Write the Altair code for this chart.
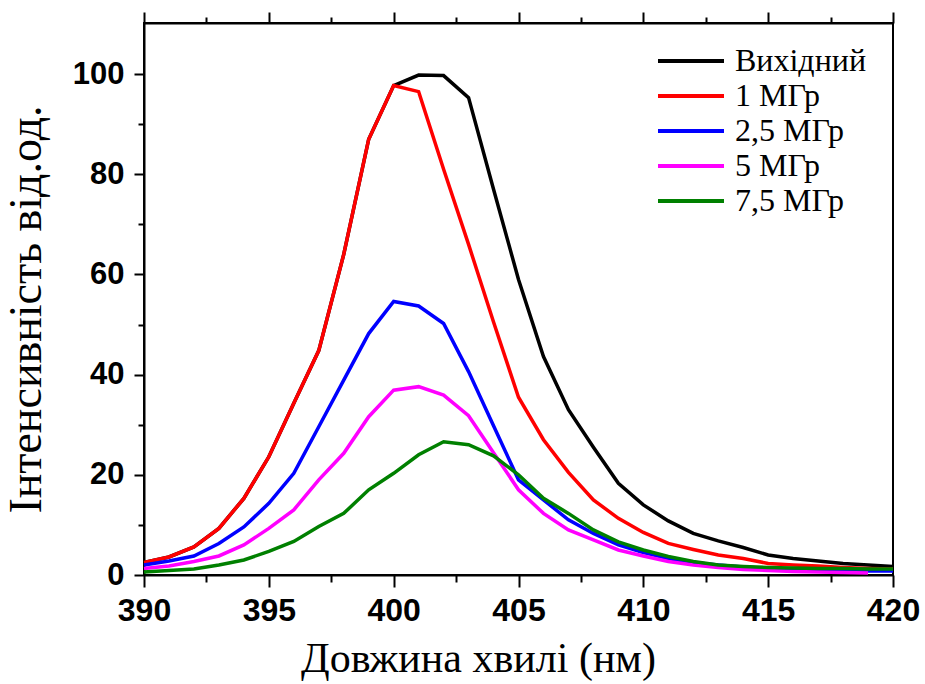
import altair as alt
import pandas as pd

wavelength = list(range(390, 421))
series_names = ["Вихідний", "1 МГр", "2,5 МГр", "5 МГр", "7,5 МГр"]
series_colors = ["#000000", "#ff0000", "#0000ff", "#ff00ff", "#008000"]

red = [2.5, 3.6, 5.6, 9.3, 15.3, 23.6, 34.3, 44.8, 64.0, 87.0,
       97.7, 96.5, 81.0, 66.0, 50.5, 35.5, 27.0, 20.5, 15.0, 11.3,
       8.5, 6.3, 5.1, 4.0, 3.3, 2.3, 2.0, 1.8, 1.5, 1.3, 1.2]
black = [2.5, 3.6, 5.6, 9.3, 15.3, 23.6, 34.3, 44.8, 64.0, 87.0,
         97.7, 99.8, 99.7, 95.3, 77.0, 59.0, 43.6, 33.0, 25.5, 18.3,
         14.0, 10.8, 8.3, 6.8, 5.5, 4.0, 3.3, 2.8, 2.3, 2.0, 1.7]
blue = [2.0, 2.8, 3.8, 6.3, 9.6, 14.3, 20.3, 29.6, 38.9, 48.2,
        54.6, 53.7, 50.2, 40.6, 29.8, 19.0, 15.0, 11.0, 8.3, 6.0,
        4.5, 3.3, 2.5, 2.0, 1.6, 1.3, 1.1, 1.0, 0.9, 0.8, 0.8]
magenta = [1.3, 1.8, 2.7, 3.8, 6.0, 9.3, 13.0, 19.0, 24.3, 31.6,
           36.9, 37.6, 35.9, 31.8, 24.4, 17.0, 12.3, 9.0, 7.0, 5.0,
           3.8, 2.7, 2.0, 1.5, 1.1, 0.9, 0.7, 0.6, 0.5, 0.4, None]
green = [0.6, 0.9, 1.2, 2.0, 3.0, 4.7, 6.7, 9.7, 12.3, 17.0,
         20.3, 24.0, 26.6, 26.0, 23.8, 20.0, 15.3, 12.3, 9.0, 6.6,
         5.0, 3.7, 2.7, 2.0, 1.7, 1.5, 1.4, 1.3, 1.3, 1.2, 1.2]

x_major = [390, 395, 400, 405, 410, 415, 420]
x_minor = [392.5, 397.5, 402.5, 407.5, 412.5, 417.5]
y_major = [0, 20, 40, 60, 80, 100]
y_minor = [10, 30, 50, 70, 90]

rows = []
for order, (name, vals) in enumerate(zip(series_names, [black, red, blue, magenta, green])):
    for w, v in zip(wavelength, vals):
        if v is not None:
            rows.append({"wl": w, "val": v, "series": name, "order": order})
df = pd.DataFrame(rows)

sans = "Liberation Sans, Arial, sans-serif"
serif = "Liberation Serif, Times New Roman, serif"

xs = alt.Scale(domain=[390, 420], nice=False, zero=False)
ys = alt.Scale(domain=[0, 110.2], nice=False)
line_common = dict(grid=False, domainColor="black", domainWidth=2, tickColor="black", tickWidth=2)

color = alt.Color(
    "series:N",
    scale=alt.Scale(domain=series_names, range=series_colors),
    sort=series_names,
    legend=alt.Legend(
        title=None, orient="none", legendX=531, legendY=22,
        symbolType="M-3,0H3", symbolSize=484, symbolStrokeWidth=4,
        labelFont=serif, labelFontSize=32, labelColor="black",
        labelOffset=28, rowPadding=3, padding=0, labelLimit=400,
    ),
)

main = alt.Chart(df).mark_line(strokeWidth=3.5).encode(
    x=alt.X("wl:Q", scale=xs, axis=alt.Axis(
        title="Довжина хвилі (нм)", values=x_major, format="d", tickSize=12,
        labelFont=sans, labelFontSize=32, labelFontWeight="bold", labelColor="black",
        labelPadding=8, labelFlush=False, labelOverlap=False,
        titleFont=serif, titleFontSize=42, titleFontWeight="normal",
        titleColor="black", titlePadding=12, titleX=334, **line_common)),
    y=alt.Y("val:Q", scale=ys, axis=alt.Axis(
        title="Інтенсивність від.од.", values=y_major, tickSize=10,
        labelFont=sans, labelFontSize=31, labelFontWeight="bold", labelColor="black",
        labelPadding=10, labelFlush=False, labelOverlap=False,
        titleFont=serif, titleFontSize=46, titleFontWeight="normal",
        titleColor="black", titlePadding=22, titleY=286, **line_common)),
    color=color,
    detail="order:O",
)

minor_bottom_left = alt.Chart(df).mark_line(opacity=0).encode(
    x=alt.X("wl:Q", scale=xs, axis=alt.Axis(
        orient="bottom", title=None, values=x_minor, labels=False, domain=False,
        tickSize=7, **line_common)),
    y=alt.Y("val:Q", scale=ys, axis=alt.Axis(
        orient="left", title=None, values=y_minor, labels=False, domain=False,
        tickSize=6, **line_common)),
    detail="series:N",
)

top_major = alt.Chart(df).mark_line(opacity=0).encode(
    x=alt.X("wl:Q", scale=xs, axis=alt.Axis(
        orient="top", title=None, values=x_major, labels=False,
        tickSize=11, **line_common)),
    y=alt.Y("val:Q", scale=ys, axis=None),
    detail="series:N",
)

top_minor = alt.Chart(df).mark_line(opacity=0).encode(
    x=alt.X("wl:Q", scale=xs, axis=alt.Axis(
        orient="top", title=None, values=x_minor, labels=False, domain=False,
        tickSize=6, **line_common)),
    y=alt.Y("val:Q", scale=ys, axis=None),
    detail="series:N",
)

chart = alt.layer(main, minor_bottom_left, top_major, top_minor).resolve_axis(
    x="independent", y="independent"
).properties(
    width=749, height=552,
    autosize=alt.AutoSizeParams(type="none"),
    padding={"left": 144, "top": 23, "right": 32, "bottom": 109},
).configure_view(stroke="black", strokeWidth=2)

chart.save("out.html", embed_options={"renderer": "svg", "actions": False})
